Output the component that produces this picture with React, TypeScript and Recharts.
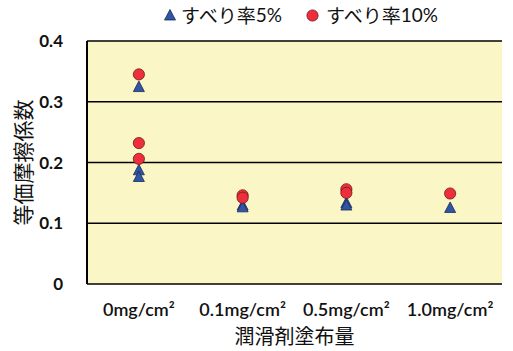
import { ScatterChart, Scatter, XAxis, YAxis, CartesianGrid, Legend } from "recharts";

const categories = ["0mg/cm²", "0.1mg/cm²", "0.5mg/cm²", "1.0mg/cm²"];
const slip5 = [[0.325, 0.188, 0.177], [0.13, 0.127], [0.134, 0.13], [0.126]];
const slip10 = [[0.345, 0.232, 0.206], [0.146, 0.142], [0.156, 0.15], [0.149]];
const yTicks = [0, 0.1, 0.2, 0.3, 0.4];

const toPoints = (vals: number[][]) =>
  vals.flatMap((list, i) => list.map((y) => ({ x: i + 0.5, y })));

const BLUE = "#2F55A4";
const RED = "#EE2F3B";
const FONT = "Lato, 'Noto Sans', sans-serif";
const CJK = "'Noto Sans CJK JP', sans-serif";

const Triangle = (p: any) => {
  const { cx, cy } = p;
  if (cx == null || cy == null) return null;
  return (
    <path
      d={`M${cx},${cy - 5.5} L${cx + 5.5},${cy + 5} L${cx - 5.5},${cy + 5} Z`}
      fill={BLUE}
      stroke="#1b2a55"
      strokeWidth={0.8}
    />
  );
};

const Dot = (p: any) => {
  const { cx, cy } = p;
  if (cx == null || cy == null) return null;
  return <circle cx={cx} cy={cy} r={5.6} fill={RED} stroke="#6b1a1a" strokeWidth={0.8} />;
};

const LegendBox = () => (
  <div
    style={{
      height: 36,
      display: "flex",
      justifyContent: "center",
      alignItems: "flex-start",
      paddingLeft: 100,
      fontFamily: CJK,
      fontSize: 19,
      lineHeight: "20px",
      color: "#111",
    }}
  >
    <span style={{ display: "flex", alignItems: "center", marginRight: 24 }}>
      <svg width={12} height={12} style={{ marginRight: 5 }}>
        <path d="M6,0.5 L11.5,11 L0.5,11 Z" fill={BLUE} stroke="#1b2a55" strokeWidth={0.8} />
      </svg>
      すべり率<span style={{ fontFamily: FONT }}>5%</span>
    </span>
    <span style={{ display: "flex", alignItems: "center" }}>
      <svg width={13} height={13} style={{ marginRight: 7 }}>
        <circle cx={6.5} cy={6.5} r={5.6} fill={RED} stroke="#6b1a1a" strokeWidth={0.8} />
      </svg>
      すべり率<span style={{ fontFamily: FONT }}>10%</span>
    </span>
  </div>
);

export default function App() {
  return (
    <div style={{ position: "absolute", left: 0, top: 0, background: "#fff" }}>
      <ScatterChart width={513} height={351} margin={{ top: 5, right: 11, bottom: 0, left: 0 }}>
        <CartesianGrid vertical={false} stroke="#000" strokeWidth={1.3} fill="#FAF6C6" fillOpacity={1} />
        <Legend verticalAlign="top" content={<LegendBox />} />
        <XAxis
          xAxisId="grid"
          type="number"
          dataKey="x"
          domain={[0, categories.length]}
          ticks={categories.map((_, i) => i).concat(categories.length)}
          tick={false}
          mirror
          tickSize={5}
          axisLine={{ stroke: "#000", strokeWidth: 2 }}
          tickLine={{ stroke: "#000", strokeWidth: 1.5 }}
          height={0}
        />
        <XAxis
          type="number"
          dataKey="x"
          domain={[0, categories.length]}
          ticks={categories.map((_, i) => i + 0.5)}
          tickFormatter={(v: number) => categories[Math.floor(v)]}
          axisLine={false}
          tickLine={false}
          interval={0}
          tick={{ fill: "#111", fontSize: 18, fontFamily: FONT, fontWeight: 600 }}
          tickMargin={13}
          height={67}
          label={{ value: "潤滑剤塗布量", position: "insideBottom", offset: 7, fill: "#111", fontSize: 20, fontFamily: CJK }}
        />
        <YAxis
          type="number"
          dataKey="y"
          domain={[0, 0.4]}
          ticks={yTicks}
          tickFormatter={(v: number) => (v === 0 ? "0" : v.toFixed(1))}
          width={87}
          axisLine={{ stroke: "#000", strokeWidth: 2 }}
          tickLine={false}
          tickMargin={18}
          tick={{ fill: "#111", fontSize: 17, fontFamily: FONT, fontWeight: 700 }}
          label={{ value: "等価摩擦係数", angle: -90, position: "insideLeft", offset: 24, fill: "#111", fontSize: 21, fontFamily: CJK, style: { textAnchor: "middle" } }}
        />
        <YAxis
          yAxisId="right"
          orientation="right"
          domain={[0, 0.4]}
          width={0}
          tick={false}
          tickLine={false}
          axisLine={{ stroke: "#000", strokeWidth: 2.5 }}
        />
        <Scatter name="すべり率5%" data={toPoints(slip5)} shape={Triangle} isAnimationActive={false} />
        <Scatter name="すべり率10%" data={toPoints(slip10)} shape={Dot} isAnimationActive={false} />
      </ScatterChart>
    </div>
  );
}
